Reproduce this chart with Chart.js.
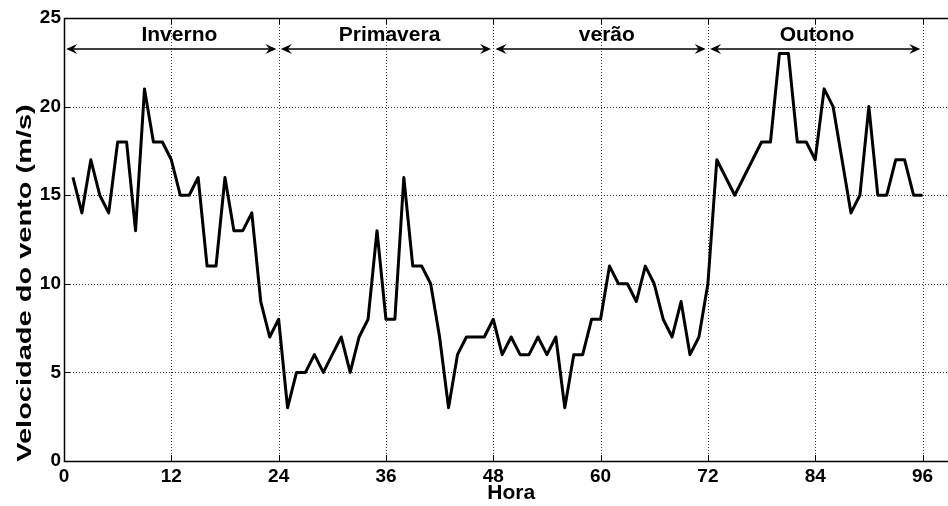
<!DOCTYPE html>
<html lang="pt">
<head>
  <meta charset="UTF-8">
  <title>Velocidade do vento</title>
  <script src="https://cdn.jsdelivr.net/npm/chart.js"></script>
  <style>
    body {
      margin: 0;
      background: #fff;
    }
    #box {
      width: 948px;
      height: 506px;
    }
  </style>
</head>
<body>
  <div id="box">
    <canvas id="vento" width="948" height="506"></canvas>
  </div>

  <script>
    // horas (1..96) e velocidade do vento
    const horas = [
      1, 2, 3, 4, 5, 6, 7, 8, 9, 10, 11, 12, 13, 14, 15, 16, 17, 18, 19, 20, 21, 22, 23, 24,
      25, 26, 27, 28, 29, 30, 31, 32, 33, 34, 35, 36, 37, 38, 39, 40, 41, 42, 43, 44, 45, 46, 47, 48,
      49, 50, 51, 52, 53, 54, 55, 56, 57, 58, 59, 60, 61, 62, 63, 64, 65, 66, 67, 68, 69, 70, 71, 72,
      73, 74, 75, 76, 77, 78, 79, 80, 81, 82, 83, 84, 85, 86, 87, 88, 89, 90, 91, 92, 93, 94, 95, 96
    ];
    const velocidade = [
      16, 14, 17, 15, 14, 18, 18, 13, 21, 18, 18, 17, 15, 15, 16, 11, 11, 16, 13, 13, 14, 9, 7, 8,
      3, 5, 5, 6, 5, 6, 7, 5, 7, 8, 13, 8, 8, 16, 11, 11, 10, 7, 3, 6, 7, 7, 7, 8,
      6, 7, 6, 6, 7, 6, 7, 3, 6, 6, 8, 8, 11, 10, 10, 9, 11, 10, 8, 7, 9, 6, 7, 10,
      17, 16, 15, 16, 17, 18, 18, 23, 23, 18, 18, 17, 21, 20, 17, 14, 15, 20, 15, 15, 17, 17, 15, 15
    ];

    const xTicks = [0, 12, 24, 36, 48, 60, 72, 84, 96];
    const yTicks = [0, 5, 10, 15, 20, 25];

    // estações do ano (faixas de horas) e posição dos nomes
    const estacoes = ["Inverno", "Primavera", "verão", "Outono"];
    const estacaoInicio = [0, 24, 48, 72];
    const estacaoFim = [24, 48, 72, 96];
    const textoX = [12.9, 36.4, 60.7, 84.2];
    const setaY = 23.25;
    const textoY = 24.05;

    const fonte = "'Liberation Sans', Arial, sans-serif";

    function seta(ctx, x1, x2, y) {
      ctx.beginPath();
      ctx.moveTo(x1 + 2, y);
      ctx.lineTo(x2 - 2, y);
      ctx.stroke();
      [[x1, 1], [x2, -1]].forEach(([x, d]) => {
        ctx.beginPath();
        ctx.moveTo(x, y);
        ctx.lineTo(x + d * 11, y - 5);
        ctx.lineTo(x + d * 7, y);
        ctx.lineTo(x + d * 11, y + 5);
        ctx.closePath();
        ctx.fill();
      });
    }

    const moldura = {
      id: "moldura",
      beforeDatasetsDraw(chart) {
        const { ctx, chartArea: a, scales: { x, y } } = chart;
        ctx.save();
        // grade pontilhada
        ctx.strokeStyle = "#333";
        ctx.lineWidth = 1;
        ctx.setLineDash([1, 2]);
        xTicks.forEach(v => {
          if (v === 0) return;
          const px = Math.round(x.getPixelForValue(v)) + 0.5;
          ctx.beginPath();
          ctx.moveTo(px, a.top);
          ctx.lineTo(px, a.bottom);
          ctx.stroke();
        });
        yTicks.forEach(v => {
          if (v === 0 || v === 25) return;
          const py = Math.round(y.getPixelForValue(v)) + 0.5;
          ctx.beginPath();
          ctx.moveTo(a.left, py);
          ctx.lineTo(a.right, py);
          ctx.stroke();
        });
        ctx.setLineDash([]);
        // marcas internas
        ctx.strokeStyle = "#000";
        xTicks.forEach(v => {
          const px = Math.round(x.getPixelForValue(v)) + 0.5;
          ctx.beginPath();
          ctx.moveTo(px, a.bottom);
          ctx.lineTo(px, a.bottom - 6);
          ctx.moveTo(px, a.top);
          ctx.lineTo(px, a.top + 6);
          ctx.stroke();
        });
        yTicks.forEach(v => {
          const py = Math.round(y.getPixelForValue(v)) + 0.5;
          ctx.beginPath();
          ctx.moveTo(a.left, py);
          ctx.lineTo(a.left + 6, py);
          ctx.stroke();
        });
        // eixos
        ctx.lineWidth = 1.5;
        ctx.beginPath();
        ctx.moveTo(a.right, Math.round(a.top) + 0.5);
        ctx.lineTo(Math.round(a.left) + 0.5, Math.round(a.top) + 0.5);
        ctx.lineTo(Math.round(a.left) + 0.5, Math.round(a.bottom) + 0.5);
        ctx.lineTo(a.right, Math.round(a.bottom) + 0.5);
        ctx.stroke();
        ctx.restore();
      },
      afterDraw(chart) {
        const { ctx, scales: { x, y } } = chart;
        ctx.save();
        ctx.fillStyle = "#000";
        ctx.strokeStyle = "#000";
        ctx.lineWidth = 1.5;
        // setas e nomes das estações
        estacoes.forEach((nome, i) => {
          const x1 = x.getPixelForValue(estacaoInicio[i] + 0.25);
          const x2 = x.getPixelForValue(estacaoFim[i] - 0.25);
          seta(ctx, x1, x2, y.getPixelForValue(setaY));
          ctx.font = "bold 21px " + fonte;
          ctx.textAlign = "center";
          ctx.textBaseline = "middle";
          ctx.fillText(nome, x.getPixelForValue(textoX[i]), y.getPixelForValue(textoY));
        });
        // títulos dos eixos
        ctx.font = "bold 21px " + fonte;
        ctx.textAlign = "center";
        ctx.textBaseline = "middle";
        ctx.fillText("Hora", x.getPixelForValue(50), 493);
        ctx.translate(25, 283);
        ctx.rotate(-Math.PI / 2);
        ctx.scale(1.38, 1);
        ctx.font = "bold 21px " + fonte;
        ctx.fillText("Velocidade do vento (m/s)", 0, 0);
        ctx.restore();
      }
    };

    new Chart(document.getElementById("vento"), {
      type: "line",
      data: {
        labels: horas,
        datasets: [{
          label: "Velocidade do vento",
          data: horas.map((h, i) => ({ x: h, y: velocidade[i] })),
          borderColor: "#000",
          borderWidth: 3,
          borderJoinStyle: "round",
          pointRadius: 0,
          tension: 0,
          fill: false
        }]
      },
      options: {
        responsive: false,
        animation: false,
        layout: { padding: { top: 18, right: 0, left: 0, bottom: 0 } },
        plugins: {
          legend: { display: false },
          tooltip: { enabled: false }
        },
        scales: {
          x: {
            type: "linear",
            min: 0,
            max: 98.85,
            afterFit(s) { s.height = 45; },
            afterBuildTicks(s) { s.ticks = xTicks.map(v => ({ value: v })); },
            grid: { display: false, drawTicks: false },
            border: { display: false },
            ticks: {
              color: "#000",
              padding: 4,
              maxRotation: 0,
              autoSkip: false,
              font: { family: fonte, size: 19, weight: "bold" }
            }
          },
          y: {
            min: 0,
            max: 25,
            afterFit(s) { s.width = 64; },
            afterBuildTicks(s) { s.ticks = yTicks.map(v => ({ value: v })); },
            grid: { display: false, drawTicks: false },
            border: { display: false },
            ticks: {
              color: "#000",
              padding: 3,
              font: { family: fonte, size: 19, weight: "bold" }
            }
          }
        }
      },
      plugins: [moldura]
    });
  </script>
</body>
</html>
